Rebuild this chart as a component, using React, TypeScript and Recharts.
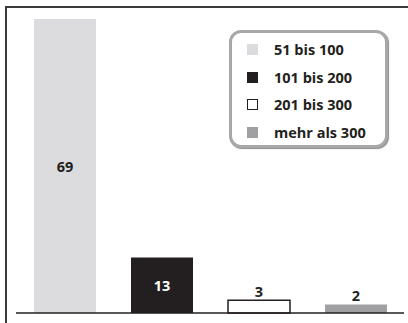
import React from 'react';
import { BarChart, Bar, XAxis, YAxis, Cell, LabelList, ReferenceLine } from 'recharts';

const categories = ['51 bis 100', '101 bis 200', '201 bis 300', 'mehr als 300'];
const counts = [69, 13, 3, 2];

const fills = ['#dcdcde', '#231f20', '#ffffff', '#a0a0a3'];
const labelColors = ['#231f20', '#ffffff', '#231f20', '#231f20'];

const data = categories.map((name, i) => ({ name, value: counts[i] }));

const font = '"Open Sans", sans-serif';

function ValueLabel(props: any) {
  const { x, y, width, height, value, index } = props;
  const inside = value >= 10;
  const cx = x + width / 2;
  const cy = inside ? y + height / 2 : y - 9;
  return (
    <text
      x={cx}
      y={cy}
      textAnchor="middle"
      dominantBaseline="central"
      fontFamily={font}
      fontWeight={700}
      fontSize={14.5}
      fill={labelColors[index]}
    >
      {value}
    </text>
  );
}

function LegendBox() {
  return (
    <div
      style={{
        position: 'absolute',
        left: 229,
        top: 30,
        boxSizing: 'border-box',
        width: 159,
        height: 118,
        border: '3px solid #a8a8a8',
        borderRadius: 12,
        boxShadow: '1px 1px 1px #8c8c8c',
        background: '#fff',
        padding: '3px 0 0 15px',
        fontFamily: font,
        fontWeight: 700,
        fontSize: 14.5,
        color: '#231f20',
      }}
    >
      {categories.map((c, i) => (
        <div key={c} style={{ display: 'flex', alignItems: 'center', height: 27.5 }}>
          <span
            style={{
              display: 'inline-block',
              boxSizing: 'border-box',
              width: 11,
              height: 11,
              background: fills[i],
              border: i === 2 ? '1px solid #231f20' : 'none',
              marginRight: 16,
            }}
          />
          {c}
        </div>
      ))}
    </div>
  );
}

export default function App() {
  return (
    <div style={{ position: 'fixed', left: 0, top: 0, width: 408, height: 323, background: '#fff' }}>
      <div
        style={{
          position: 'absolute',
          left: 5,
          top: 6,
          width: 403,
          height: 317,
          borderTop: '2px solid #3a3a3a',
          borderLeft: '2px solid #3a3a3a',
        }}
      />
      <BarChart
        width={408}
        height={323}
        data={data}
        margin={{ top: 19, right: 4, bottom: 10, left: 16 }}
        barCategoryGap={35}
        style={{ position: 'absolute', left: 0, top: 0 }}
      >
        <XAxis dataKey="name" hide />
        <YAxis hide domain={[0, 69]} />
        <Bar dataKey="value" barSize={62} isAnimationActive={false}>
          {data.map((d, i) => (
            <Cell key={d.name} fill={fills[i]} stroke={i === 2 ? '#231f20' : 'none'} strokeWidth={1.5} />
          ))}
          <LabelList dataKey="value" content={ValueLabel} />
        </Bar>
        <ReferenceLine y={0} stroke="#231f20" strokeWidth={1.5} ifOverflow="visible" />
      </BarChart>
      <LegendBox />
    </div>
  );
}
